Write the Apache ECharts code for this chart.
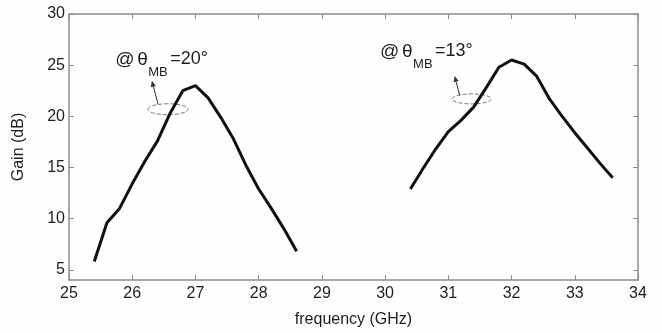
<!DOCTYPE html>
<html>
<head>
<meta charset="utf-8">
<script src="https://cdn.jsdelivr.net/npm/echarts@6/dist/echarts.min.js"></script>
<style>
  html, body { margin: 0; padding: 0; background: #fefefc; }
  #chart { width: 662px; height: 333px; }
</style>
</head>
<body>
<div id="chart"></div>
<script>
// Gain versus frequency for two main-beam steering angles
const freqLow  = [25.4, 25.6, 25.8, 26.0, 26.2, 26.4, 26.6, 26.8, 27.0, 27.2, 27.4, 27.6, 27.8, 28.0, 28.2, 28.4, 28.6];
const gainLow  = [5.8, 9.6, 11.0, 13.4, 15.6, 17.6, 20.3, 22.5, 23.0, 21.8, 19.9, 17.8, 15.2, 12.9, 11.0, 9.0, 6.8];
const freqHigh = [30.4, 30.6, 30.8, 31.0, 31.2, 31.4, 31.6, 31.8, 32.0, 32.2, 32.4, 32.6, 32.8, 33.0, 33.2, 33.4, 33.6];
const gainHigh = [12.9, 14.9, 16.8, 18.5, 19.6, 20.9, 22.8, 24.8, 25.5, 25.1, 23.9, 21.7, 20.0, 18.4, 16.9, 15.4, 14.0];

const yTicks = [5, 10, 15, 20, 25, 30];

// Annotation anchors in data units [GHz, dB]
const notes = [
  { angle: '=20°', text: [25.73, 25.55], ellipse: [26.565, 20.69], rx: 20, ry: 5.5, tail: [26.41, 21.15], tip: [26.31, 23.47] },
  { angle: '=13°', text: [29.92, 26.35], ellipse: [31.37, 21.70], rx: 19.5, ry: 5, tail: [31.18, 22.02], tip: [31.10, 23.95] }
];

const FONT = '"Liberation Sans", Arial, sans-serif';
const frameColor = '#8c8c8c';

const pairs = (xs, ys) => xs.map((x, i) => [x, ys[i]]);

const chart = echarts.init(document.getElementById('chart'));

const xBase = {
  type: 'value', min: 25, max: 34, interval: 1,
  axisLine: { show: true, onZero: false, lineStyle: { color: frameColor, width: 1.5 } },
  axisTick: { show: true, inside: true, length: 5, lineStyle: { color: frameColor } },
  splitLine: { show: false }
};
const yBase = {
  type: 'value', min: 4, max: 30,
  axisLine: { show: true, onZero: false, lineStyle: { color: frameColor, width: 1.5 } },
  axisTick: { show: true, inside: true, length: 5, customValues: yTicks, lineStyle: { color: frameColor } },
  splitLine: { show: false }
};

chart.setOption({
  backgroundColor: '#fefefc',
  animation: false,
  grid: { left: 69, right: 24, top: 14, bottom: 50, containLabel: false },
  xAxis: [
    Object.assign({}, xBase, {
      position: 'bottom',
      name: 'frequency (GHz)', nameLocation: 'middle', nameGap: 32,
      nameTextStyle: { color: '#1e1e1e', fontSize: 16, fontFamily: FONT },
      axisLabel: { color: '#1e1e1e', fontSize: 16, fontFamily: FONT, margin: 6 }
    }),
    Object.assign({}, xBase, { position: 'top', axisLabel: { show: false } })
  ],
  yAxis: [
    Object.assign({}, yBase, {
      position: 'left',
      name: 'Gain (dB)', nameLocation: 'middle', nameGap: 42,
      nameTextStyle: { color: '#1e1e1e', fontSize: 16, fontFamily: FONT },
      axisLabel: { color: '#1e1e1e', fontSize: 16, fontFamily: FONT, margin: 4, customValues: yTicks }
    }),
    Object.assign({}, yBase, { position: 'right', axisLabel: { show: false } })
  ],
  series: [
    { type: 'line', data: pairs(freqLow, gainLow), showSymbol: false, symbol: 'none',
      lineStyle: { color: '#111', width: 3 }, xAxisIndex: 0, yAxisIndex: 0 },
    { type: 'line', data: pairs(freqHigh, gainHigh), showSymbol: false, symbol: 'none',
      lineStyle: { color: '#111', width: 3 }, xAxisIndex: 0, yAxisIndex: 0 }
  ]
});

// Angle labels, dashed ellipses and pointer arrows
const px = (p) => chart.convertToPixel({ xAxisIndex: 0, yAxisIndex: 0 }, p);
const elements = [];
notes.forEach((n) => {
  const t = px(n.text);
  const txt = { fill: '#1e1e1e', fontFamily: FONT, verticalAlign: 'middle', align: 'left' };
  elements.push({ type: 'text', x: t[0], y: t[1], style: Object.assign({ text: '@', fontSize: 19 }, txt) });
  elements.push({ type: 'text', x: t[0] + 22, y: t[1], style: Object.assign({ text: 'θ', fontSize: 19 }, txt) });
  elements.push({ type: 'text', x: t[0] + 33, y: t[1] + 13, style: Object.assign({ text: 'MB', fontSize: 13 }, txt) });
  elements.push({ type: 'text', x: t[0] + 55, y: t[1], style: Object.assign({ text: n.angle, fontSize: 18 }, txt) });

  const c = px(n.ellipse);
  elements.push({ type: 'ellipse', shape: { cx: c[0], cy: c[1], rx: n.rx, ry: n.ry },
    style: { fill: 'none', stroke: '#7a7a7a', lineWidth: 1, lineDash: [4, 2] } });

  const a = px(n.tail), b = px(n.tip);
  const ang = Math.atan2(b[1] - a[1], b[0] - a[0]);
  const L = 6, W = 2.6;
  const bx = b[0] - L * Math.cos(ang), by = b[1] - L * Math.sin(ang);
  elements.push({ type: 'line', shape: { x1: a[0], y1: a[1], x2: bx, y2: by },
    style: { stroke: '#333', lineWidth: 1 } });
  elements.push({ type: 'polygon', shape: { points: [
      [b[0], b[1]],
      [bx + W * Math.sin(ang), by - W * Math.cos(ang)],
      [bx - W * Math.sin(ang), by + W * Math.cos(ang)]
    ] }, style: { fill: '#333' } });
});
chart.setOption({ graphic: elements });
</script>
</body>
</html>
